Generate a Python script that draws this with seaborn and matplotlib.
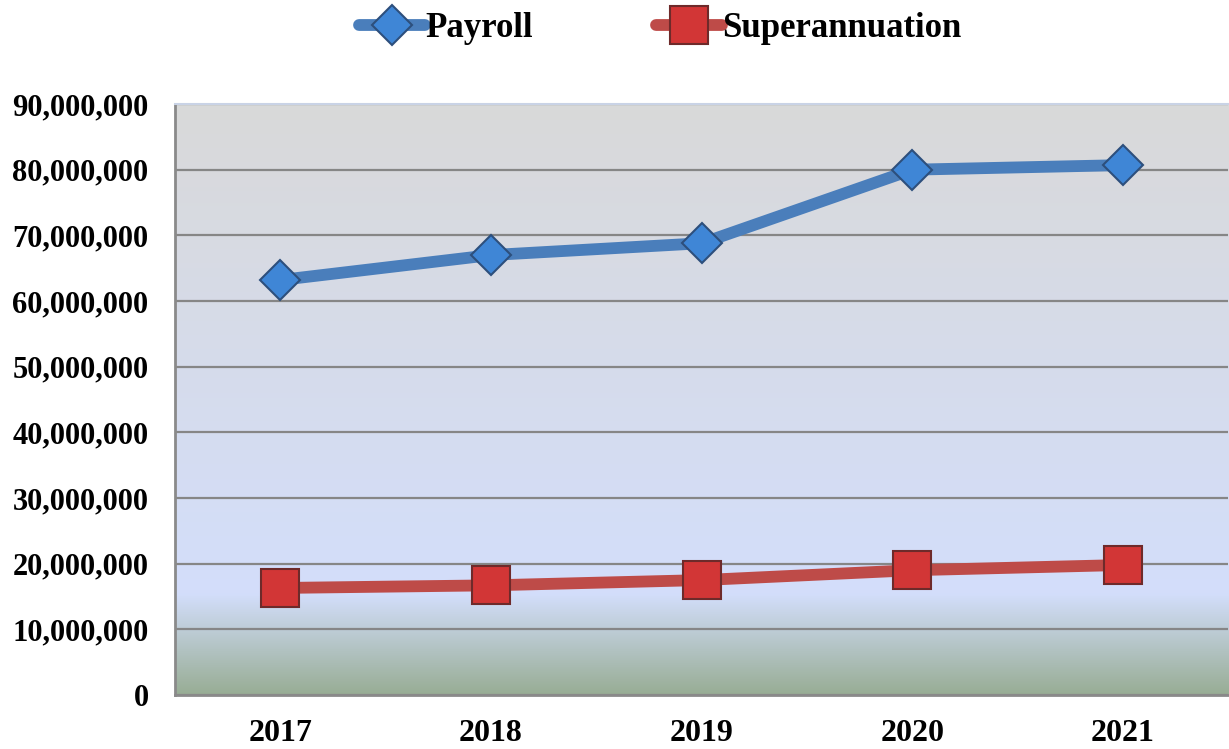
import matplotlib
matplotlib.use("Agg")
import matplotlib.pyplot as plt
import matplotlib.ticker as mticker
from matplotlib.colors import LinearSegmentedColormap
import numpy as np
import pandas as pd
import seaborn as sns

# data
years = [2017, 2018, 2019, 2020, 2021]
payroll = [63200000, 67000000, 68800000, 80000000, 80700000]
superannuation = [16300000, 16700000, 17500000, 19000000, 19800000]

df = pd.DataFrame({
    "year": years * 2,
    "value": payroll + superannuation,
    "series": ["Payroll"] * 5 + ["Superannuation"] * 5,
})

sns.set_style("white")
plt.rcParams["font.family"] = ["Liberation Serif", "DejaVu Serif"]
plt.rcParams["font.weight"] = "bold"
plt.rcParams["text.color"] = "black"
plt.rcParams["xtick.color"] = "black"
plt.rcParams["ytick.color"] = "black"

fig = plt.figure(figsize=(12.29, 7.49), dpi=100)
ax = fig.add_axes([0.1424, 0.0721, 0.857, 0.789])

# background gradient: grey top -> pale blue -> green bottom
cmap = LinearSegmentedColormap.from_list(
    "bg", [(0.0, "#d9d9d9"), (0.83, "#d3defb"), (1.0, "#98ad95")])
grad = np.linspace(0, 1, 256).reshape(-1, 1)
ax.imshow(grad, cmap=cmap, aspect="auto", extent=[0, 1, 0, 1],
          transform=ax.transAxes, zorder=0)

styles = {
    "Payroll": dict(color="#4a7ebb", marker="D", mfc="#3f86d6", mec="#2d4f7c", ms=20),
    "Superannuation": dict(color="#be4b48", marker="s", mfc="#d23636", mec="#6e2a2a", ms=27),
}
for name, st in styles.items():
    sub = df[df["series"] == name]
    sns.lineplot(data=sub, x="year", y="value", ax=ax, color=st["color"],
                 linewidth=8.5, marker=st["marker"], markersize=st["ms"],
                 markerfacecolor=st["mfc"], markeredgecolor=st["mec"],
                 markeredgewidth=1.5, label=name, zorder=3,
                 solid_capstyle="round")

ax.set_xlim(2016.5, 2021.5)
ax.set_ylim(0, 90000000)
ax.set_xticks(years)
ax.set_yticks(np.arange(0, 90000001, 10000000))
ax.yaxis.set_major_formatter(mticker.FuncFormatter(lambda v, p: f"{int(v):,}"))
ax.grid(axis="y", color="#868686", linewidth=1.6, zorder=1)
ax.set_axisbelow(True)
ax.tick_params(axis="y", length=0, pad=19, labelsize=22)
ax.tick_params(axis="x", length=0, pad=17, labelsize=23)
for lab in ax.get_xticklabels() + ax.get_yticklabels():
    lab.set_fontweight("bold")
ax.set_xlabel("")
ax.set_ylabel("")

for side in ["left", "bottom"]:
    ax.spines[side].set_color("#8a8a8a")
    ax.spines[side].set_linewidth(2)
ax.spines["top"].set_color("#c9d3e6")
ax.spines["top"].set_linewidth(1.5)
ax.spines["right"].set_visible(False)

handles, labels = ax.get_legend_handles_labels()
ax.get_legend().remove()
leg = fig.legend(handles, labels, loc="center", bbox_to_anchor=(0.537, 0.962),
                 ncol=2, frameon=False, fontsize=25, handlelength=1.9,
                 columnspacing=3.55, handletextpad=0.0)
for t in leg.get_texts():
    t.set_fontweight("bold")

fig.savefig("out.png", dpi=100)
